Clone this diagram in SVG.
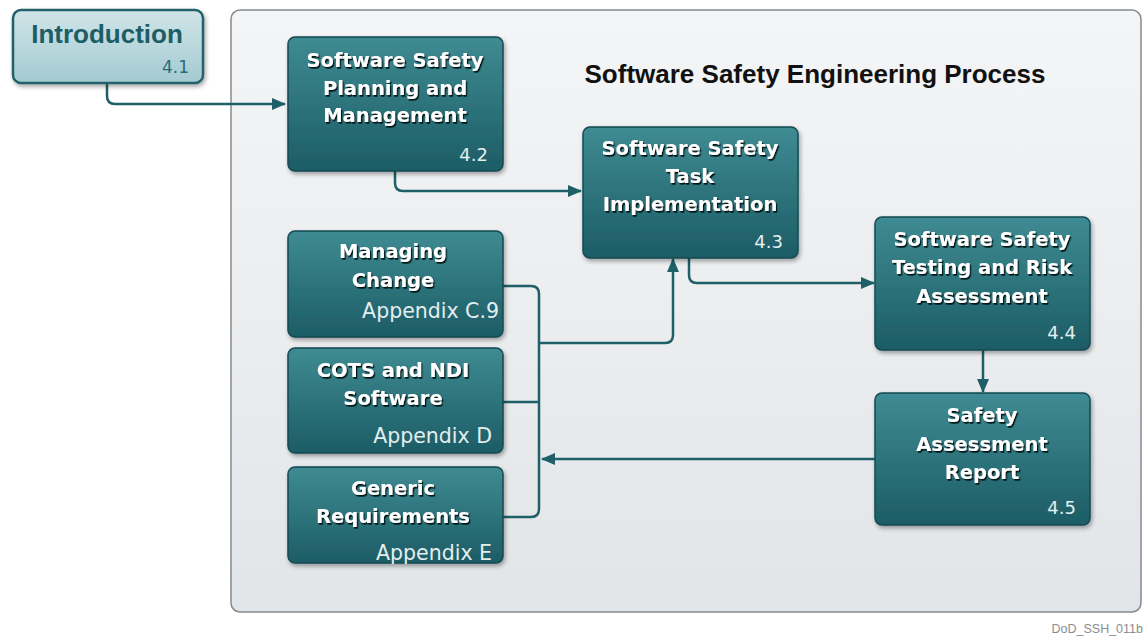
<svg xmlns="http://www.w3.org/2000/svg" width="1144" height="637" viewBox="0 0 1144 637">
<defs>
<linearGradient id="gBox" x1="0" y1="0" x2="0" y2="1">
<stop offset="0" stop-color="#3f8b93"/>
<stop offset="1" stop-color="#1c5c65"/>
</linearGradient>
<linearGradient id="gIntro" x1="0" y1="0" x2="0" y2="1">
<stop offset="0" stop-color="#d0e5e8"/>
<stop offset="1" stop-color="#a3cad1"/>
</linearGradient>
<linearGradient id="gPanel" x1="0" y1="0" x2="0" y2="1">
<stop offset="0" stop-color="#f4f5f6"/>
<stop offset="1" stop-color="#e2e5e8"/>
</linearGradient>
<filter id="shadow" x="-10%" y="-10%" width="125%" height="130%">
<feDropShadow dx="1.5" dy="2.5" stdDeviation="2" flood-color="#000" flood-opacity="0.35"/>
</filter>
<filter id="tshadow" x="-5%" y="-20%" width="115%" height="150%">
<feDropShadow dx="1.3" dy="1.7" stdDeviation="0.6" flood-color="#061517" flood-opacity="1"/>
</filter>
<marker id="arr" viewBox="0 0 14 12" refX="13" refY="6" markerWidth="14" markerHeight="12" markerUnits="userSpaceOnUse" orient="auto">
<path d="M0,0 L14,6 L0,12 Z" fill="#1e5f68"/>
</marker>
</defs>
<style>
.box{fill:url(#gBox);stroke:#164a52;stroke-width:1.5;filter:url(#shadow)}
.t{font-family:"DejaVu Sans",sans-serif;font-weight:bold;font-size:19.5px;fill:#fff;text-anchor:middle;filter:url(#tshadow)}
.n{font-family:"DejaVu Sans",sans-serif;font-size:18px;fill:#e3eeef;text-anchor:end}
.a{font-family:"DejaVu Sans",sans-serif;font-size:20.5px;fill:#e3eeef;text-anchor:end}
.c{fill:none;stroke:#1e5f68;stroke-width:2.5}
</style>
<rect width="1144" height="637" fill="#ffffff"/>
<g id="panel">
<rect x="231" y="10" width="910" height="602" rx="9" fill="url(#gPanel)" stroke="#868a8e" stroke-width="1.5"/>
<text x="815" y="83" font-family="Liberation Sans, Arial, sans-serif" font-weight="bold" font-size="26" fill="#111" text-anchor="middle">Software Safety Engineering Process</text>
</g>
<g id="connectors">
<path class="c" d="M107,83 V96 Q107,104 115,104 H285" marker-end="url(#arr)"/>
<path class="c" d="M395,171 V183 Q395,191 403,191 H581" marker-end="url(#arr)"/>
<path class="c" d="M689,258 V275 Q689,283 697,283 H874" marker-end="url(#arr)"/>
<path class="c" d="M503,286 H531 Q539,286 539,294 V509 Q539,517 531,517 H503"/>
<path class="c" d="M503,402 H539"/>
<path class="c" d="M539,343 H665 Q673,343 673,335 V259" marker-end="url(#arr)"/>
<path class="c" d="M875,459 H542" marker-end="url(#arr)"/>
<path class="c" d="M983,350 V392" marker-end="url(#arr)"/>
</g>
<g id="intro">
<rect x="13" y="10" width="190" height="73" rx="8" fill="url(#gIntro)" stroke="#23606a" stroke-width="2.5" filter="url(#shadow)"/>
<text x="107" y="43" font-family="Liberation Sans, Arial, sans-serif" font-weight="bold" font-size="26" fill="#1f5d66" text-anchor="middle">Introduction</text>
<text x="189" y="73" font-family="DejaVu Sans, sans-serif" font-size="17" fill="#2a6a73" text-anchor="end">4.1</text>
</g>
<g id="planning">
<rect class="box" x="288" y="37" width="215" height="134" rx="7"/>
<text class="t" x="395" y="67">Software Safety</text>
<text class="t" x="395" y="95">Planning and</text>
<text class="t" x="395" y="122">Management</text>
<text class="n" x="488" y="161">4.2</text>
</g>
<g id="task">
<rect class="box" x="583" y="127" width="215" height="131" rx="7"/>
<text class="t" x="690" y="155">Software Safety</text>
<text class="t" x="690" y="183">Task</text>
<text class="t" x="690" y="211">Implementation</text>
<text class="n" x="783" y="248">4.3</text>
</g>
<g id="testing">
<rect class="box" x="875" y="217" width="215" height="133" rx="7"/>
<text class="t" x="982" y="246">Software Safety</text>
<text class="t" x="982" y="274">Testing and Risk</text>
<text class="t" x="982" y="303">Assessment</text>
<text class="n" x="1076" y="339">4.4</text>
</g>
<g id="report">
<rect class="box" x="875" y="393" width="215" height="132" rx="7"/>
<text class="t" x="982" y="422">Safety</text>
<text class="t" x="982" y="451">Assessment</text>
<text class="t" x="982" y="479">Report</text>
<text class="n" x="1076" y="514">4.5</text>
</g>
<g id="managing">
<rect class="box" x="288" y="231" width="215" height="106" rx="7"/>
<text class="t" x="393" y="258">Managing</text>
<text class="t" x="393" y="287">Change</text>
<text class="a" x="499" y="318">Appendix C.9</text>
</g>
<g id="cots">
<rect class="box" x="288" y="348" width="215" height="105" rx="7"/>
<text class="t" x="393" y="377">COTS and NDI</text>
<text class="t" x="393" y="405">Software</text>
<text class="a" x="492" y="443">Appendix D</text>
</g>
<g id="generic">
<rect class="box" x="288" y="467" width="215" height="96" rx="7"/>
<text class="t" x="393" y="495">Generic</text>
<text class="t" x="393" y="523">Requirements</text>
<text class="a" x="492" y="560">Appendix E</text>
</g>
<text x="1143" y="633" font-family="Liberation Sans, Arial, sans-serif" font-size="12.5" fill="#8a8d90" text-anchor="end">DoD_SSH_011b</text>
</svg>
